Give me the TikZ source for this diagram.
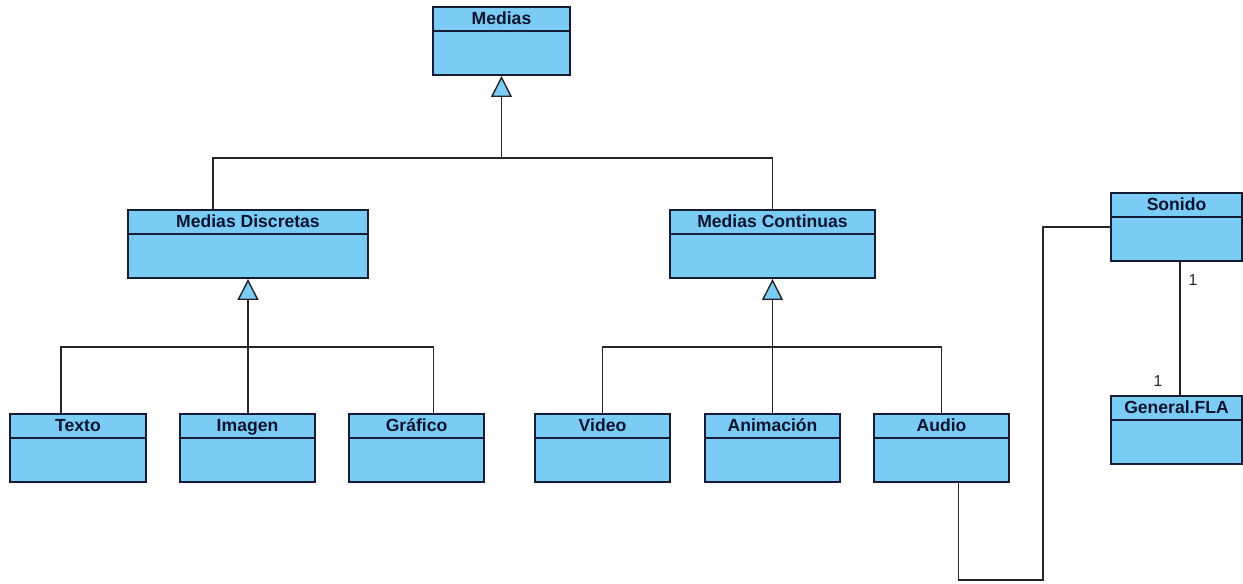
\documentclass[tikz,border=0pt]{standalone}
\usepackage{fontspec}
\setmainfont{Liberation Sans}
\usetikzlibrary{arrows.meta,calc}

\definecolor{classblue}{RGB}{122,204,244}
\definecolor{classline}{RGB}{22,28,52}
\definecolor{classtext}{RGB}{14,20,48}

% name, left, top, width, title (all in pixel units of the picture)
\newcommand{\umlclass}[5]{%
  \node[classbox, minimum width=#4*0.02cm] (#1) at (#2+#4/2,#3+34) {};
  \draw[draw=classline, line width=1.1pt] ($(#1.north west)+(0,25)$) -- ($(#1.north east)+(0,25)$);
  \node[classname] at ($(#1.north)+(0,12.5)$) {#5};
}

\begin{document}
\begin{tikzpicture}[x=0.02cm, y=-0.02cm,
  classbox/.style={draw=classline, line width=1.1pt, fill=classblue,
    minimum height=1.36cm, inner sep=0pt},
  classname/.style={text=classtext, font=\fontsize{10}{12}\selectfont\bfseries,
    text height=7.2pt, text depth=0.8pt, inner sep=0pt},
  link/.style={draw=black!85, line width=0.8pt},
  inherit/.style={link, -{Triangle[fill=classblue, length=0.42cm, width=0.42cm]}},
  mult/.style={text=black!85, font=\fontsize{9}{11}\selectfont}]
  \useasboundingbox (0,0) rectangle (1243,584);

  % classes
  \umlclass{medias}{433}{7}{137}{Medias}
  \umlclass{discretas}{128}{210}{240}{Medias Discretas}
  \umlclass{continuas}{670}{210}{205}{Medias Continuas}
  \umlclass{texto}{10}{414}{136}{Texto}
  \umlclass{imagen}{180}{414}{135}{Imagen}
  \umlclass{grafico}{349}{414}{135}{Gráfico}
  \umlclass{video}{535}{414}{135}{Video}
  \umlclass{animacion}{705}{414}{135}{Animación}
  \umlclass{audio}{874}{414}{135}{Audio}
  \umlclass{sonido}{1111}{193}{131}{Sonido}
  \umlclass{general}{1111}{396}{131}{General.FLA}

  % generalisation trees
  \path (medias.south) ++(0,82) coordinate (jm);
  \path (discretas.south) ++(0,68) coordinate (jd);
  \path (continuas.south) ++(0,68) coordinate (jc);

  \draw[link] ([xshift=-0.7cm]discretas.north) |- (jm) -| (continuas.north);
  \draw[inherit] (jm) -- (medias.south);

  \draw[link] ([xshift=-0.34cm]texto.north) |- (jd) -| ([xshift=0.34cm]grafico.north);
  \draw[link] (jd |- imagen.north) -- (jd);
  \draw[inherit] (jd) -- (discretas.south);

  \draw[link] (video.north) |- (jc) -| (audio.north);
  \draw[inherit] (animacion.north) -- (continuas.south);

  % associations
  \coordinate (bend) at (1043,580);
  \draw[link] ([xshift=0.34cm]audio.south) |- (bend) |- (sonido.west);
  \draw[link] ([xshift=0.07cm]sonido.south) -- ([xshift=0.07cm]general.north);
  \node[mult] (m1) at (1193,280) {1};
  \node[mult] (m2) at (1158,381) {1};
\end{tikzpicture}
\end{document}
